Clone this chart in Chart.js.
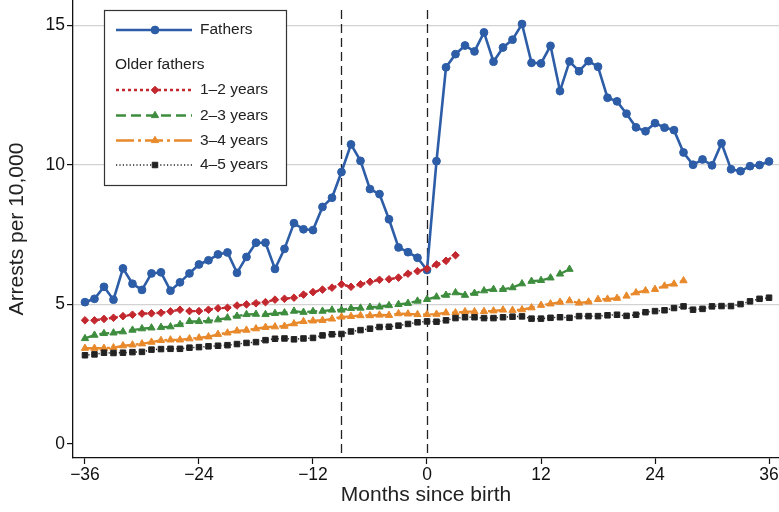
<!DOCTYPE html>
<html>
<head>
<meta charset="utf-8">
<script src="https://cdn.jsdelivr.net/npm/chart.js@4.4.1/dist/chart.umd.min.js"></script>
<style>
  html, body { margin: 0; padding: 0; background: #fff; }
  #wrap { width: 779px; height: 512px; }
</style>
</head>
<body>
<div id="wrap"><canvas id="canvas"></canvas></div>
<script>
// months since birth
const months = [-36, -35, -34, -33, -32, -31, -30, -29, -28, -27, -26, -25, -24, -23, -22, -21, -20, -19,
  -18, -17, -16, -15, -14, -13, -12, -11, -10, -9, -8, -7, -6, -5, -4, -3, -2, -1, 0,
  1, 2, 3, 4, 5, 6, 7, 8, 9, 10, 11, 12, 13, 14, 15, 16, 17, 18,
  19, 20, 21, 22, 23, 24, 25, 26, 27, 28, 29, 30, 31, 32, 33, 34, 35, 36];

const fathers = [5.08, 5.20, 5.63, 5.17, 6.29, 5.74, 5.52, 6.11, 6.15, 5.49, 5.79, 6.11, 6.43, 6.58, 6.79, 6.86, 6.13, 6.70,
  7.21, 7.21, 6.27, 6.99, 7.91, 7.69, 7.66, 8.49, 8.82, 9.74, 10.73, 10.14, 9.13, 8.95, 8.05, 7.04, 6.87, 6.67, 6.23,
  10.13, 13.49, 13.96, 14.27, 14.06, 14.74, 13.69, 14.20, 14.48, 15.04, 13.65, 13.63, 14.26, 12.64, 13.70, 13.35, 13.71, 13.51,
  12.40, 12.27, 11.83, 11.34, 11.20, 11.49, 11.33, 11.24, 10.44, 10.00, 10.19, 9.98, 10.77, 9.84, 9.77, 9.95, 9.99, 10.12];

// older fathers, from month -36 onward
const older12 = [4.43, 4.43, 4.48, 4.52, 4.58, 4.63, 4.67, 4.68, 4.70, 4.75, 4.81, 4.76, 4.76, 4.81, 4.86, 4.88, 4.96, 5.00,
  5.04, 5.08, 5.17, 5.20, 5.24, 5.35, 5.44, 5.53, 5.60, 5.72, 5.63, 5.72, 5.81, 5.88, 5.90, 5.96, 6.10, 6.19, 6.28,
  6.43, 6.56, 6.76];

const older23 = [3.78, 3.90, 3.96, 3.98, 4.02, 4.08, 4.13, 4.16, 4.18, 4.20, 4.28, 4.39, 4.39, 4.41, 4.45, 4.52, 4.58, 4.64,
  4.65, 4.64, 4.68, 4.70, 4.76, 4.72, 4.75, 4.76, 4.80, 4.80, 4.86, 4.87, 4.90, 4.91, 4.96, 5.00, 5.04, 5.12, 5.18,
  5.27, 5.33, 5.42, 5.33, 5.40, 5.49, 5.54, 5.54, 5.60, 5.74, 5.83, 5.86, 5.95, 6.09, 6.26];

const older34 = [3.43, 3.43, 3.43, 3.45, 3.52, 3.55, 3.59, 3.65, 3.71, 3.73, 3.73, 3.77, 3.80, 3.84, 3.93, 3.98, 4.05, 4.08,
  4.13, 4.18, 4.20, 4.22, 4.31, 4.39, 4.41, 4.43, 4.48, 4.55, 4.57, 4.60, 4.60, 4.62, 4.61, 4.67, 4.66, 4.64, 4.64,
  4.65, 4.70, 4.70, 4.74, 4.74, 4.75, 4.77, 4.80, 4.79, 4.81, 4.88, 4.97, 5.02, 5.08, 5.13, 5.05, 5.09, 5.18,
  5.19, 5.22, 5.30, 5.42, 5.49, 5.54, 5.66, 5.73, 5.85];

const older45 = [3.18, 3.21, 3.27, 3.26, 3.27, 3.29, 3.30, 3.38, 3.40, 3.41, 3.41, 3.45, 3.47, 3.50, 3.52, 3.54, 3.58, 3.62,
  3.65, 3.72, 3.77, 3.78, 3.75, 3.78, 3.80, 3.89, 3.93, 3.94, 4.03, 4.08, 4.13, 4.19, 4.20, 4.24, 4.30, 4.36, 4.39,
  4.38, 4.43, 4.51, 4.54, 4.54, 4.51, 4.51, 4.54, 4.56, 4.57, 4.49, 4.49, 4.52, 4.54, 4.52, 4.58, 4.58, 4.58,
  4.61, 4.63, 4.59, 4.63, 4.72, 4.76, 4.79, 4.87, 4.93, 4.81, 4.84, 4.93, 4.94, 4.94, 5.01, 5.11, 5.20, 5.24];

const xTicks = [-36, -24, -12, 0, 12, 24, 36];
const yTicks = [0, 5, 10, 15];
const vlines = [-9, 0];

const FONT = "'Liberation Sans', Arial, Helvetica, sans-serif";

function pts(vals) {
  return vals.map((v, i) => ({ x: months[i], y: v }));
}

const series = [
  { label: "Fathers", data: fathers, color: "#2d5da7", style: "circle", r: 3.9, dash: [], width: 2.6, order: 5 },
  { label: "1\u20132 years", data: older12, color: "#c3282f", style: "rectRot", r: 3.8, dash: [3, 3], width: 2.4, order: 4 },
  { label: "2\u20133 years", data: older23, color: "#3e8d3e", style: "triangle", r: 4.2, dash: [10, 5], width: 2.4, order: 3 },
  { label: "3\u20134 years", data: older34, color: "#e8892c", style: "triangle", r: 4.2, dash: [18, 4, 3, 4], width: 2.4, order: 2 },
  { label: "4\u20135 years", data: older45, color: "#222222", style: "rect", r: 3.9, dash: [1.2, 2.2], width: 1.5, order: 1 },
];

const vlinePlugin = {
  id: "vlines",
  beforeDatasetsDraw(chart) {
    const { ctx, chartArea, scales } = chart;
    ctx.save();
    ctx.strokeStyle = "#222";
    ctx.lineWidth = 1.3;
    ctx.setLineDash([9, 5]);
    vlines.forEach((v) => {
      const px = Math.round(scales.x.getPixelForValue(v)) + 0.5;
      ctx.beginPath();
      ctx.moveTo(px, chartArea.top + 10);
      ctx.lineTo(px, chartArea.bottom);
      ctx.stroke();
    });
    ctx.restore();
  },
};

// legend box drawn inside the plot, Stata style
const legendPlugin = {
  id: "boxLegend",
  afterDraw(chart) {
    const ctx = chart.ctx;
    const left = 104, top = 10, w = 182, h = 175;
    ctx.save();
    ctx.fillStyle = "#fff";
    ctx.fillRect(left, top, w, h);
    ctx.strokeStyle = "#333";
    ctx.lineWidth = 1.2;
    ctx.setLineDash([]);
    ctx.strokeRect(left + 0.5, top + 0.5, w, h);

    ctx.font = "15.5px " + FONT;
    ctx.fillStyle = "#222";
    ctx.textBaseline = "middle";
    ctx.fillText("Older fathers", 115, 65);

    const rows = [30, 90, 115.5, 140.5, 165];
    series.forEach((s, i) => {
      const y = rows[i];
      ctx.strokeStyle = s.color;
      ctx.lineWidth = s.width;
      ctx.setLineDash(s.dash);
      ctx.beginPath();
      ctx.moveTo(116, y);
      ctx.lineTo(192, y);
      ctx.stroke();
      ctx.setLineDash([]);
      ctx.fillStyle = s.color;
      ctx.strokeStyle = s.color;
      ctx.lineWidth = 1;
      Chart.helpers.drawPoint(ctx, { pointStyle: s.style, radius: s.r, rotation: 0, borderWidth: 1 }, 155, y);
      ctx.fillStyle = "#222";
      ctx.fillText(s.label, 200, y);
    });
    ctx.restore();
  },
};

drawChart();

function drawChart() {
  const ctx = document.getElementById("canvas").getContext("2d");
  new Chart(ctx, {
    type: "line",
    data: {
      datasets: series.map((s) => ({
        label: s.label,
        data: pts(s.data),
        order: s.order,
        borderColor: s.color,
        backgroundColor: s.color,
        borderWidth: s.width,
        borderDash: s.dash,
        fill: false,
        tension: 0,
        pointStyle: s.style,
        pointRadius: s.r,
        pointBorderWidth: 1,
        pointBorderColor: s.color,
        pointBackgroundColor: s.color,
      })),
    },
    options: {
      responsive: true,
      maintainAspectRatio: false,
      animation: false,
      layout: { autoPadding: false, padding: 0 },
      plugins: {
        legend: { display: false },
        tooltip: { enabled: false },
      },
      scales: {
        x: {
          type: "linear",
          min: -37.26,
          max: 37.05,
          afterBuildTicks: (scale) => {
            scale.ticks = xTicks.map((v) => ({ value: v }));
          },
          afterFit: (scale) => {
            scale.height = 54;
            scale.paddingLeft = 0;
            scale.paddingRight = 0;
          },
          ticks: {
            autoSkip: false,
            maxRotation: 0,
            padding: 1,
            color: "#111",
            font: { family: FONT, size: 17.5 },
            callback: (v) => (v < 0 ? "\u2212" + Math.abs(v) : String(v)),
          },
          grid: {
            drawOnChartArea: false,
            drawTicks: true,
            tickLength: 6,
            tickColor: "#111",
            tickWidth: 1.2,
          },
          border: { display: true, color: "#111", width: 1.3 },
          title: {
            display: true,
            text: "Months since birth",
            color: "#222",
            font: { family: FONT, size: 21 },
            padding: { top: 0, bottom: 4 },
          },
        },
        y: {
          type: "linear",
          min: -0.5,
          max: 15.9,
          afterBuildTicks: (scale) => {
            scale.ticks = yTicks.map((v) => ({ value: v }));
          },
          afterFit: (scale) => {
            scale.width = 73;
            scale.paddingTop = 0;
            scale.paddingBottom = 0;
          },
          ticks: {
            autoSkip: false,
            padding: 2,
            color: "#111",
            font: { family: FONT, size: 17.5 },
          },
          grid: {
            color: (c) => (c.tick && c.tick.value === 0 ? "rgba(0,0,0,0)" : "#d2d2d2"),
            lineWidth: 1.2,
            drawTicks: true,
            tickLength: 6,
            tickColor: "#111",
            tickWidth: 1.2,
          },
          border: { display: true, color: "#111", width: 1.3 },
          title: {
            display: true,
            text: "Arrests per 10,000",
            color: "#222",
            font: { family: FONT, size: 21 },
            padding: { top: 5, bottom: 0 },
          },
        },
      },
    },
    plugins: [vlinePlugin, legendPlugin],
  });
}
</script>
</body>
</html>
